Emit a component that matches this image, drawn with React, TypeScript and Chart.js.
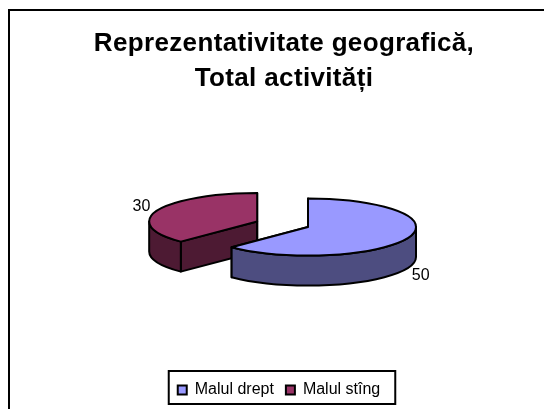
import React, { useEffect, useRef } from "react";
import { Chart, registerables } from "chart.js";

Chart.register(...registerables);

const categories = ["Malul drept", "Malul stîng"];
const values = [50, 30];
const topColors = ["#9999FF", "#993366"];
const sideColors = ["#4D4D80", "#4D1A33"];
const explode = [0, 55];
const titleLines = ["Reprezentativitate geografică,", "Total activități"];

const CX = 308, CY = 227, K = 0.264, DEPTH = 30;
const FONT = "'Liberation Sans', Arial, sans-serif";

function geom(arc: any, i: number) {
  const a0 = arc.startAngle, a1 = arc.endAngle, r = arc.outerRadius;
  const mid = (a0 + a1) / 2;
  const off = explode[i];
  return { a0, a1, r, mid, cx: CX + Math.cos(mid) * off, cy: CY + Math.sin(mid) * off * K };
}

const pie3d = {
  id: "pie3d",
  beforeDraw(chart: any) {
    const { ctx } = chart;
    ctx.save();
    ctx.fillStyle = "#fff";
    ctx.fillRect(0, 0, chart.width, chart.height);
    ctx.strokeStyle = "#000";
    ctx.lineWidth = 2;
    ctx.strokeRect(9, 10, chart.width + 20, chart.height + 20);
    ctx.restore();
    const tb = chart.titleBlock;
    if (tb && !tb.__wrapped) {
      const orig = tb.draw;
      tb.draw = function (...args: any[]) {
        ctx.save();
        ctx.translate(5, 2);
        ctx.letterSpacing = "0.35px";
        orig.apply(this, args);
        ctx.restore();
      };
      tb.__wrapped = true;
    }
  },
  beforeDatasetDraw() {
    return false;
  },
  afterDatasetsDraw(chart: any) {
    const { ctx } = chart;
    const arcs = chart.getDatasetMeta(0).data;
    ctx.save();
    ctx.strokeStyle = "#000";
    ctx.lineWidth = 2;
    ctx.lineJoin = "round";
    for (let i = arcs.length - 1; i >= 0; i--) {
      const g = geom(arcs[i], i);
      ctx.fillStyle = sideColors[i];
      const pt = (a: number, d = 0) => [g.cx + g.r * Math.cos(a), g.cy + g.r * K * Math.sin(a) + d];
      for (const a of [g.a0, g.a1]) {
        const p = pt(a);
        ctx.beginPath();
        ctx.moveTo(g.cx, g.cy);
        ctx.lineTo(p[0], p[1]);
        ctx.lineTo(p[0], p[1] + DEPTH);
        ctx.lineTo(g.cx, g.cy + DEPTH);
        ctx.closePath();
        ctx.fill();
        ctx.stroke();
      }
      const s = Math.max(g.a0, 0), e = Math.min(g.a1, Math.PI);
      if (e > s) {
        const p = pt(e, DEPTH);
        ctx.beginPath();
        ctx.ellipse(g.cx, g.cy, g.r, g.r * K, 0, s, e);
        ctx.lineTo(p[0], p[1]);
        ctx.ellipse(g.cx, g.cy + DEPTH, g.r, g.r * K, 0, e, s, true);
        ctx.closePath();
        ctx.fill();
        ctx.stroke();
      }
    }
    arcs.forEach((arc: any, i: number) => {
      const g = geom(arc, i);
      ctx.save();
      ctx.translate(g.cx, g.cy);
      ctx.scale(1, K);
      ctx.translate(-arc.x, -arc.y);
      arc.draw(ctx);
      ctx.restore();
      ctx.beginPath();
      ctx.moveTo(g.cx, g.cy);
      ctx.ellipse(g.cx, g.cy, g.r, g.r * K, 0, g.a0, g.a1);
      ctx.closePath();
      ctx.stroke();
      const lr = g.r + 14;
      const lower = Math.sin(g.mid) > 0;
      const lx = g.cx + lr * Math.cos(g.mid) + (lower ? 0 : -3);
      const ly = g.cy + lr * K * Math.sin(g.mid) + (lower ? DEPTH + 6 : -3);
      ctx.fillStyle = "#000";
      ctx.font = `16px ${FONT}`;
      ctx.textAlign = "center";
      ctx.textBaseline = "middle";
      ctx.fillText(String(values[i]), lx, ly);
    });
    ctx.restore();
  },
  afterDraw(chart: any) {
    const { ctx, legend } = chart;
    const boxes = legend.legendHitBoxes;
    const l = boxes[0].left - 9;
    const last = boxes[boxes.length - 1];
    const r = last.left + last.width + 15;
    ctx.save();
    ctx.strokeStyle = "#000";
    ctx.lineWidth = 2;
    ctx.strokeRect(l, 371, r - l, 33);
    ctx.restore();
  },
};

export default function App() {
  const ref = useRef<HTMLCanvasElement>(null);
  useEffect(() => {
    const chart = new Chart(ref.current!, {
      type: "pie",
      data: {
        labels: categories,
        datasets: [{
          data: values,
          backgroundColor: topColors,
          borderWidth: 0,
        } as any],
      },
      options: {
        responsive: false,
        animation: false,
        radius: 108,
        layout: { padding: { top: 24, bottom: 1, left: 14 } },
        plugins: {
          tooltip: { enabled: false },
          title: {
            display: true,
            text: titleLines,
            color: "#000",
            font: { family: FONT, size: 26, weight: "bold", lineHeight: 1.346 },
            padding: { top: 0, bottom: 0 },
          },
          legend: {
            position: "bottom",
            labels: {
              color: "#000",
              boxWidth: 9,
              boxHeight: 9,
              padding: 12,
              font: { family: FONT, size: 16 },
              generateLabels: () =>
                categories.map((text, i) => ({
                  text,
                  fillStyle: topColors[i],
                  strokeStyle: "#000",
                  lineWidth: 2,
                  index: i,
                  hidden: false,
                })),
            },
          },
        },
      } as any,
      plugins: [pie3d],
    });
    return () => chart.destroy();
  }, []);
  return (
    <canvas
      ref={ref}
      width={544}
      height={409}
      style={{ position: "fixed", left: 0, top: 0, width: 544, height: 409, display: "block" }}
    />
  );
}
